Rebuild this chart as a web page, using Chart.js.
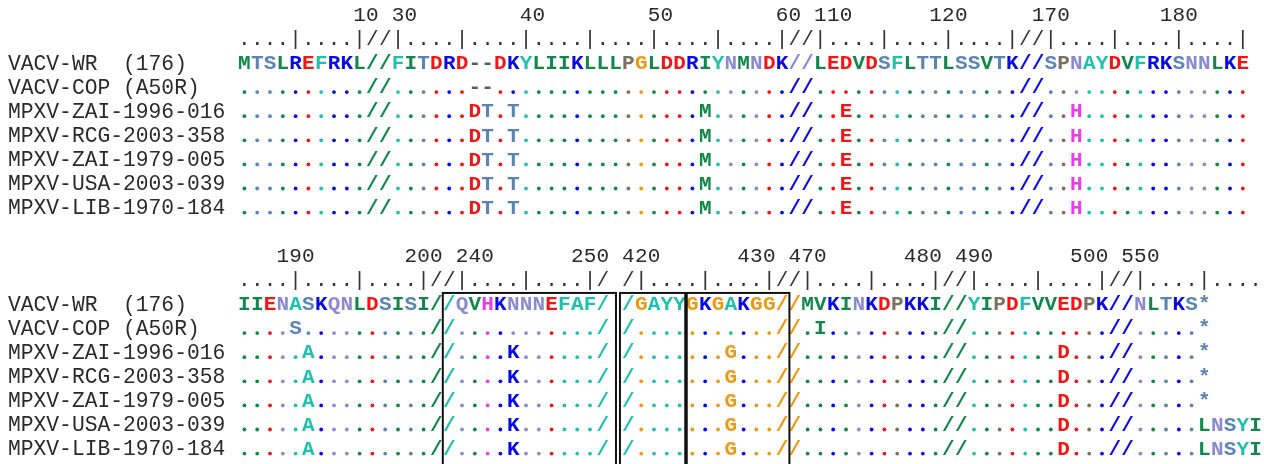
<!DOCTYPE html>
<html>
<head>
<meta charset="utf-8">
<script src="https://cdn.jsdelivr.net/npm/chart.js@4.4.1/dist/chart.umd.min.js"></script>
<style>
  html, body { margin: 0; padding: 0; background: #fff; }
  #wrap { width: 1264px; height: 464px; }
</style>
</head>
<body>
<div id="wrap"><canvas id="alignChart" width="1264" height="464"></canvas></div>
<script>
// sequence names (y axis)
var seqNames = ['VACV-WR  (176)', 'VACV-COP (A50R)', 'MPXV-ZAI-1996-016', 'MPXV-RCG-2003-358',
                'MPXV-ZAI-1979-005', 'MPXV-USA-2003-039', 'MPXV-LIB-1970-184'];

// block 1
var topTickLabels = ['10', '30', '40', '50', '60', '110', '120', '170', '180'];
var topTickCols   = [10, 13, 23, 33, 43, 46, 55, 63, 73];
var topRuler = '....|....|//|....|....|....|....|....|....|//|....|....|....|//|....|....|....|';
var topRef   = 'MTSLREFRKL//FITDRD--DKYLIIKLLLPGLDDRIYNMNDK//LEDVDSFLTTLSSVTK//SPNAYDVFRKSNNLKE';
// residues that differ from VACV-WR, by column
var topChanges = [
  {},
  {},
  {19: 'D', 20: 'T', 22: 'T', 37: 'M', 48: 'E', 66: 'H'},
  {19: 'D', 20: 'T', 22: 'T', 37: 'M', 48: 'E', 66: 'H'},
  {19: 'D', 20: 'T', 22: 'T', 37: 'M', 48: 'E', 66: 'H'},
  {19: 'D', 20: 'T', 22: 'T', 37: 'M', 48: 'E', 66: 'H'},
  {19: 'D', 20: 'T', 22: 'T', 37: 'M', 48: 'E', 66: 'H'}
];
var topSlashRef  = 'LLNNKK';
var topSlashRest = 'LLKKKK';

// block 2
var botTickLabels = ['190', '200', '240', '250', '420', '430', '470', '480', '490', '500', '550'];
var botTickCols   = [4, 14, 18, 27, 31, 40, 44, 53, 57, 66, 70];
var botRuler = '....|....|....|//|....|....|/ /|....|....|//|....|....|//|....|....|//|....|....';
var botRef   = 'IIENASKQNLDSISI//QVHKNNNEFAF/ /GAYYGKGAKGG//MVKINKDPKKI//YIPDFVVEDPK//NLTKS*';
var botChanges = [
  {},
  {5: 'S', 46: 'I'},
  {6: 'A', 22: 'K', 39: 'G', 65: 'D'},
  {6: 'A', 22: 'K', 39: 'G', 65: 'D'},
  {6: 'A', 22: 'K', 39: 'G', 65: 'D'},
  {6: 'A', 22: 'K', 39: 'G', 65: 'D', 76: 'L', 77: 'N', 78: 'S', 79: 'Y', 80: 'I'},
  {6: 'A', 22: 'K', 39: 'G', 65: 'D', 76: 'L', 77: 'N', 78: 'S', 79: 'Y', 80: 'I'}
];
var botSlashRef  = 'IFFFGGIIKK';
var botSlashRest = 'IFFFGGIIKK';

var aaColors = {
  '#13874b': 'MLIV',
  '#5b84b5': 'TS*',
  '#0a0ae6': 'RK',
  '#f51414': 'ED',
  '#1fc1ae': 'FYA',
  '#8a8ad0': 'NQ',
  '#e53fe5': 'H',
  '#e99a12': 'G',
  '#7d7062': 'P',
  '#5a5a5a': '-'
};

function colorOf(ch) {
  for (var c in aaColors) {
    if (aaColors[c].indexOf(ch) >= 0) return c;
  }
  return '#222';
}

var blocks = [
  {row: 0,  labels: topTickLabels, cols: topTickCols, ruler: topRuler, ref: topRef, changes: topChanges, slashRef: topSlashRef, slashRest: topSlashRest},
  {row: 10, labels: botTickLabels, cols: botTickCols, ruler: botRuler, ref: botRef, changes: botChanges, slashRef: botSlashRef, slashRest: botSlashRest}
];

var MONO = "'Liberation Mono', 'Courier New', monospace";

var alignPlugin = {
  id: 'alignText',
  afterDatasetsDraw: function (chart) {
    var ctx = chart.ctx;
    var xs = chart.scales.x, ys = chart.scales.y;
    ctx.save();
    ctx.textAlign = 'center';
    ctx.textBaseline = 'middle';

    blocks.forEach(function (b) {
      // position numbers
      ctx.font = '21px ' + MONO;
      ctx.fillStyle = '#2a2a2a';
      var yNum = ys.getPixelForValue(b.row);
      for (var i = 0; i < b.labels.length; i++) {
        for (var j = 0; j < b.labels[i].length; j++) {
          ctx.fillText(b.labels[i][j], xs.getPixelForValue(b.cols[i] + j), yNum);
        }
      }
      // ruler
      ctx.fillStyle = '#333';
      var yRul = ys.getPixelForValue(b.row + 1);
      for (var k = 0; k < b.ruler.length; k++) {
        if (b.ruler[k] !== ' ') ctx.fillText(b.ruler[k], xs.getPixelForValue(k + 1), yRul);
      }
      // sequences
      ctx.font = 'bold 21px ' + MONO;
      for (var r = 0; r < b.changes.length; r++) {
        var y = ys.getPixelForValue(b.row + 2 + r);
        var ch = b.changes[r];
        var len = b.ref.length;
        for (var key in ch) { if (+key > len) len = +key; }
        var slashKeys = r === 0 ? b.slashRef : b.slashRest;
        var s = 0;
        for (var c = 1; c <= len; c++) {
          var refCh = b.ref[c - 1] || ' ';
          var isRes = /[A-Z]/.test(refCh);
          var out = ch[c] || (r === 0 ? refCh : (isRes ? '.' : refCh));
          var x = xs.getPixelForValue(c);
          if (out === ' ') continue;
          if (out === '.') {
            ctx.fillStyle = colorOf(refCh);
            ctx.beginPath();
            ctx.arc(x, y + 4, 1.9, 0, Math.PI * 2);
            ctx.fill();
          } else if (out === '/') {
            ctx.fillStyle = colorOf(slashKeys[s++]);
            ctx.fillText('/', x, y);
          } else {
            ctx.fillStyle = colorOf(out);
            ctx.fillText(out, x, y);
          }
        }
      }
    });

    // boxed regions of block 2
    var top = ys.getPixelForValue(11.5), bottom = ys.getPixelForValue(19.5);
    ctx.strokeStyle = '#111';
    ctx.lineWidth = 2;
    [[16.5, 30.03], [30.34, 43.58]].forEach(function (bx) {
      var l = xs.getPixelForValue(bx[0]), rr = xs.getPixelForValue(bx[1]);
      ctx.strokeRect(l, top, rr - l, bottom - top);
    });
    ctx.lineWidth = 3.5;
    var xd = xs.getPixelForValue(35.5);
    ctx.beginPath();
    ctx.moveTo(xd, top);
    ctx.lineTo(xd, bottom);
    ctx.stroke();
    ctx.restore();
  }
};

var nameRows = [2, 3, 4, 5, 6, 7, 8, 12, 13, 14, 15, 16, 17, 18];

new Chart(document.getElementById('alignChart'), {
  type: 'scatter',
  data: { datasets: [] },
  plugins: [alignPlugin],
  options: {
    responsive: false,
    animation: false,
    devicePixelRatio: 1,
    layout: { padding: { left: 8, top: 0, right: 0, bottom: 0 } },
    plugins: { legend: { display: false }, tooltip: { enabled: false } },
    scales: {
      x: { type: 'linear', display: false, min: 0.5, max: 80.65625 },
      y: {
        type: 'linear',
        reverse: true,
        min: -0.6556,
        max: 18.598,
        grid: { display: false, drawTicks: false },
        border: { display: false },
        afterBuildTicks: function (axis) {
          axis.ticks = nameRows.map(function (v) { return { value: v }; });
        },
        afterFit: function (axis) {
          axis.width = 230;
          axis.paddingTop = 0;
          axis.paddingBottom = 0;
        },
        ticks: {
          autoSkip: false,
          crossAlign: 'far',
          padding: 0,
          color: '#2a2a2a',
          font: { family: MONO, size: 21.3 },
          callback: function (value) {
            return seqNames[value >= 12 ? value - 12 : value - 2];
          }
        }
      }
    }
  }
});
</script>
</body>
</html>
